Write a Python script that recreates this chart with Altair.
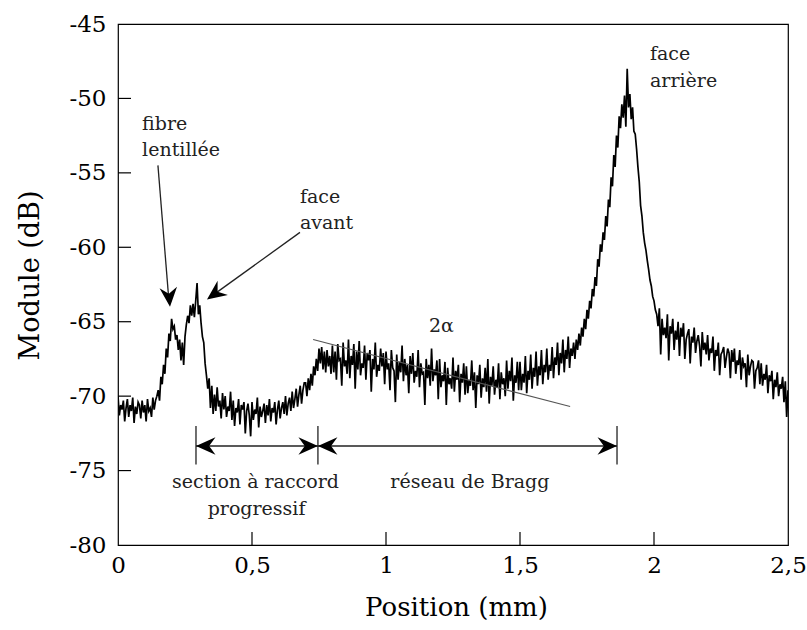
import altair as alt
import pandas as pd
import numpy as np

FONT = "DejaVu Serif"

# ---- trace (Module in dB), sampled every 0.005 mm from 0 to 2.5 mm ----
x_step = 0.005
trace = [
    # 0.000 - 0.095
    -70.0, -71.3, -70.6, -70.9, -70.3, -71.7, -70.8, -70.2, -71.4, -70.6,
    -71.0, -70.1, -71.8, -70.7, -71.2, -70.4, -70.6, -71.5, -70.3, -71.1,
    # 0.100 - 0.195
    -70.6, -71.7, -70.2, -71.0, -70.8, -71.4, -70.1, -70.9, -70.3, -70.0,
    -69.6, -70.3, -68.7, -69.2, -67.9, -68.5, -66.8, -67.4, -65.8, -66.3,
    # 0.200 - 0.295
    -64.8, -65.5, -65.3, -66.2, -65.9, -66.9, -66.2, -67.6, -66.4, -67.9,
    -66.0, -65.2, -64.6, -65.1, -63.9, -64.6, -63.8, -64.7, -63.6, -62.4,
    # 0.300 - 0.395
    -64.5, -63.9, -65.1, -66.0, -66.4, -67.8, -68.6, -69.5, -68.8, -70.8,
    -69.3, -71.2, -69.9, -71.0, -69.4, -70.7, -70.3, -71.5, -69.8, -70.9,
    # 0.400 - 0.495
    -70.0, -71.4, -70.7, -71.0, -69.7, -71.6, -70.3, -72.0, -70.8, -71.1,
    -70.2, -71.9, -70.6, -70.9, -70.4, -72.5, -71.0, -70.5, -71.3, -72.7,
    # 0.500 - 0.595
    -70.4, -71.6, -70.9, -71.2, -70.1, -72.1, -70.7, -71.4, -71.0, -70.5,
    -71.8, -70.6, -71.3, -70.2, -71.7, -70.8, -71.1, -70.4, -71.9, -70.9,
    # 0.600 - 0.695
    -70.3, -71.5, -70.8, -70.4, -71.2, -70.0, -71.3, -70.5, -70.1, -71.0,
    -69.7, -70.8, -70.2, -69.5, -70.7, -69.9, -69.3, -70.5, -69.6, -69.1,
    # 0.700 - 0.795
    -69.1, -70.0, -68.8, -69.6, -68.5, -69.3, -68.0, -68.6, -67.5, -68.3,
    -66.8, -67.8, -66.7, -68.2, -67.0, -68.4, -66.9, -68.0, -67.3, -68.5,
    # 0.800 - 0.895
    -66.6, -68.4, -67.0, -68.9, -66.5, -67.6, -67.5, -69.3, -66.4, -68.0,
    -67.6, -68.5, -66.2, -68.8, -67.3, -67.9, -66.5, -69.5, -67.0, -68.2,
    # 0.900 - 0.995
    -66.3, -68.6, -67.8, -68.1, -66.6, -68.9, -67.1, -67.6, -66.9, -69.7,
    -67.5, -68.2, -66.4, -68.7, -67.9, -68.3, -66.8, -68.0, -67.1, -69.2,
    # 1.000 - 1.095
    -67.0, -68.2, -67.8, -69.6, -66.9, -68.1, -68.3, -70.4, -67.2, -68.9,
    -67.7, -68.4, -66.6, -69.0, -67.5, -68.6, -67.9, -69.8, -67.3, -68.5,
    # 1.100 - 1.195
    -67.1, -69.1, -68.3, -68.7, -66.9, -69.4, -67.8, -68.5, -68.4, -70.6,
    -67.5, -68.8, -67.9, -69.3, -66.8, -69.0, -68.2, -68.6, -67.6, -70.2,
    # 1.200 - 1.295
    -67.5, -69.4, -68.6, -69.0, -67.7, -70.6, -68.1, -69.2, -68.8, -69.5,
    -67.4, -69.7, -68.3, -68.9, -67.9, -70.4, -68.5, -69.1, -67.8, -69.9,
    # 1.300 - 1.395
    -68.0, -69.8, -68.9, -69.3, -67.6, -69.6, -68.4, -70.8, -68.6, -69.2,
    -67.9, -70.1, -68.8, -69.4, -68.1, -69.7, -67.5, -70.5, -68.7, -69.3,
    # 1.400 - 1.495
    -68.0, -69.9, -68.9, -69.4, -67.8, -70.2, -68.4, -69.2, -68.8, -70.0,
    -67.6, -69.5, -68.3, -69.0, -67.4, -70.3, -68.6, -69.1, -67.7, -69.6,
    # 1.500 - 1.595
    -67.7, -69.6, -68.5, -69.1, -67.3, -69.8, -68.3, -68.9, -67.2, -69.5,
    -68.1, -68.7, -67.0, -69.3, -68.0, -68.6, -66.9, -69.2, -67.9, -68.4,
    # 1.600 - 1.695
    -66.8, -68.9, -67.9, -68.3, -66.7, -68.8, -67.4, -67.9, -66.4, -68.6,
    -67.1, -67.8, -66.2, -68.4, -66.9, -67.5, -66.0, -68.1, -66.8, -67.3,
    # 1.700 - 1.795
    -66.4, -67.5, -66.2, -66.9, -65.8, -66.6, -65.4, -66.0, -64.8, -65.5,
    -64.2, -64.8, -63.6, -64.1, -62.8, -63.3, -62.0, -62.6, -60.8, -61.3,
    # 1.800 - 1.895
    -59.8, -60.3, -59.0, -59.5, -57.9, -58.6, -56.8, -57.3, -55.3, -55.9,
    -53.8, -54.6, -52.5, -53.3, -51.2, -52.0, -50.4, -51.3, -49.8, -51.9,
    # 1.900 - 1.995
    -48.0, -50.6, -49.7, -51.4, -50.6, -52.2, -52.4, -53.4, -54.6, -55.6,
    -57.2, -57.9, -59.0, -59.7, -60.2, -60.9, -61.5, -62.2, -62.6, -63.3,
    # 2.000 - 2.095
    -63.6, -64.2, -64.5, -65.3, -64.1, -67.2, -64.8, -65.9, -65.4, -66.1,
    -64.5, -67.6, -65.3, -65.8, -64.8, -66.9, -65.6, -66.2, -65.0, -67.3,
    # 2.100 - 2.195
    -65.4, -66.0, -65.1, -67.5, -66.2, -65.8, -65.5, -67.8, -66.0, -66.4,
    -65.4, -67.1, -66.3, -65.9, -66.6, -68.0, -65.7, -66.9, -66.4, -67.2,
    # 2.200 - 2.295
    -65.9, -67.6, -66.8, -67.1, -66.0, -68.3, -66.9, -67.3, -66.4, -68.6,
    -67.2, -67.0, -66.7, -68.1, -67.4, -66.8, -67.1, -68.8, -66.9, -67.7,
    # 2.300 - 2.395
    -66.8, -68.5, -67.6, -67.9, -66.9, -68.9, -67.4, -68.0, -67.8, -69.4,
    -67.2, -68.6, -68.0, -67.6, -67.7, -69.5, -68.3, -68.1, -67.6, -69.2,
    # 2.400 - 2.495
    -67.8, -69.3, -68.5, -68.9, -67.9, -69.8, -68.6, -69.0, -68.3, -70.2,
    -68.9, -69.4, -68.4, -70.0, -69.2, -69.5, -68.7, -70.4, -69.0, -71.4,
    # 2.500
    -69.6,
]
positions = [round(i * x_step, 3) for i in range(len(trace))]

x_ticks = [0, 0.5, 1, 1.5, 2, 2.5]
y_ticks = [-80, -75, -70, -65, -60, -55, -50, -45]
x_inner_ticks = [0.5, 1, 1.5, 2]
y_inner_ticks = [-75, -70, -65, -60, -55, -50]

# annotation texts
ann_text = ["fibre", "lentillée", "face", "avant", "face", "arrière", "2α",
            "section à raccord", "progressif", "réseau de Bragg"]
ann_x = [0.090, 0.090, 0.679, 0.679, 1.985, 1.985, 1.160, 0.513, 0.517, 1.313]
ann_y = [-52.1, -53.9, -57.0, -58.8, -47.4, -49.2, -65.7, -76.2, -78.0, -76.2]
ann_align = ["left", "left", "left", "left", "left", "left", "left",
             "center", "center", "center"]

# line segments (x, y, x2, y2)
seg_x = [0.149, 0.679, 0.291, 0.291, 0.746, 1.862]
seg_y = [-54.5, -59.0, -73.35, -72.0, -72.0, -72.0]
seg_x2 = [0.190, 0.340, 1.862, 0.291, 0.746, 1.862]
seg_y2 = [-63.6, -63.4, -73.35, -74.6, -74.6, -74.6]

# tangent line (2 alpha)
tan_x = [0.728]
tan_y = [-66.2]
tan_x2 = [1.687]
tan_y2 = [-70.7]

# arrow heads (tip position, direction in degrees on screen)
head_x = [0.194, 0.332, 0.291, 0.746, 0.746, 1.862]
head_y = [-64.0, -63.5, -73.35, -73.35, -73.35, -73.35]
head_angle = [85, 144, 180, 0, 180, 0]

df = pd.DataFrame({"pos": positions, "mod": trace})
ann = pd.DataFrame({"x": ann_x, "y": ann_y, "t": ann_text, "a": ann_align})
seg = pd.DataFrame({"x": seg_x, "y": seg_y, "x2": seg_x2, "y2": seg_y2})
tan = pd.DataFrame({"x": tan_x, "y": tan_y, "x2": tan_x2, "y2": tan_y2})
heads = pd.DataFrame({"x": head_x, "y": head_y, "ang": head_angle})

xs = alt.Scale(domain=[0, 2.5], nice=False, zero=False)
ys = alt.Scale(domain=[-80, -45], nice=False, zero=False)

line = alt.Chart(df).mark_line(color="black", strokeWidth=1.7, clip=True).encode(
    x=alt.X("pos:Q", scale=xs,
            axis=alt.Axis(values=x_ticks, title="Position (mm)", ticks=False, domain=False,
                          grid=False, labelFont=FONT, labelFontSize=23, labelColor="black",
                          labelPadding=9, labelExpr="replace(toString(datum.value), '.', ',')",
                          labelFlush=False, titleFont=FONT, titleFontSize=26,
                          titleFontWeight="normal", titleColor="black",
                          titleX=338, titleY=70, titleBaseline="alphabetic")),
    y=alt.Y("mod:Q", scale=ys,
            axis=alt.Axis(values=y_ticks, title="Module (dB)", ticks=False, domain=False,
                          grid=False, labelFont=FONT, labelFontSize=23, labelColor="black",
                          labelPadding=12, labelExpr="toString(datum.value)",
                          labelFlush=False, titleFont=FONT, titleFontSize=27,
                          titleFontWeight="normal", titleColor="black",
                          titleAngle=270, titleX=-88, titleY=251,
                          titleAlign="center", titleBaseline="middle")),
)

xtick_layer = alt.Chart(pd.DataFrame({"v": x_inner_ticks})).mark_rule(
    color="black", strokeWidth=1.2).encode(
    x=alt.X("v:Q", scale=xs), y=alt.value(521), y2=alt.value(508))
ytick_layer = alt.Chart(pd.DataFrame({"v": y_inner_ticks})).mark_rule(
    color="black", strokeWidth=1.2).encode(
    y=alt.Y("v:Q", scale=ys), x=alt.value(0), x2=alt.value(13))

seg_layer = alt.Chart(seg).mark_rule(color="#222222", strokeWidth=1.3).encode(
    x=alt.X("x:Q", scale=xs), y=alt.Y("y:Q", scale=ys), x2="x2:Q", y2="y2:Q")
tan_layer = alt.Chart(tan).mark_rule(color="#555555", strokeWidth=1.1).encode(
    x=alt.X("x:Q", scale=xs), y=alt.Y("y:Q", scale=ys), x2="x2:Q", y2="y2:Q")

head_layer = alt.Chart(heads).mark_point(
    shape="M0,0 L-2,-0.9 L-1.35,0 L-2,0.9 Z", filled=True, color="black",
    opacity=1, size=380, strokeWidth=0).encode(
    x=alt.X("x:Q", scale=xs), y=alt.Y("y:Q", scale=ys),
    angle=alt.Angle("ang:Q", scale=None))

text_left = alt.Chart(ann[ann["a"] == "left"]).mark_text(
    font=FONT, fontSize=19, align="left", baseline="alphabetic", color="#222222").encode(
    x=alt.X("x:Q", scale=xs), y=alt.Y("y:Q", scale=ys), text="t:N")
text_center = alt.Chart(ann[ann["a"] == "center"]).mark_text(
    font=FONT, fontSize=19, align="center", baseline="alphabetic", color="#222222").encode(
    x=alt.X("x:Q", scale=xs), y=alt.Y("y:Q", scale=ys), text="t:N")

chart = alt.layer(
    line, xtick_layer, ytick_layer, tan_layer, seg_layer, head_layer, text_left, text_center
).properties(
    width=670, height=521,
    autosize=alt.AutoSizeParams(type="none"),
    padding={"left": 118, "top": 24, "right": 19, "bottom": 85},
    background="white",
).configure_view(
    stroke="black", strokeWidth=1.2
)

chart.save("out.html", embed_options={"renderer": "svg", "actions": False})
